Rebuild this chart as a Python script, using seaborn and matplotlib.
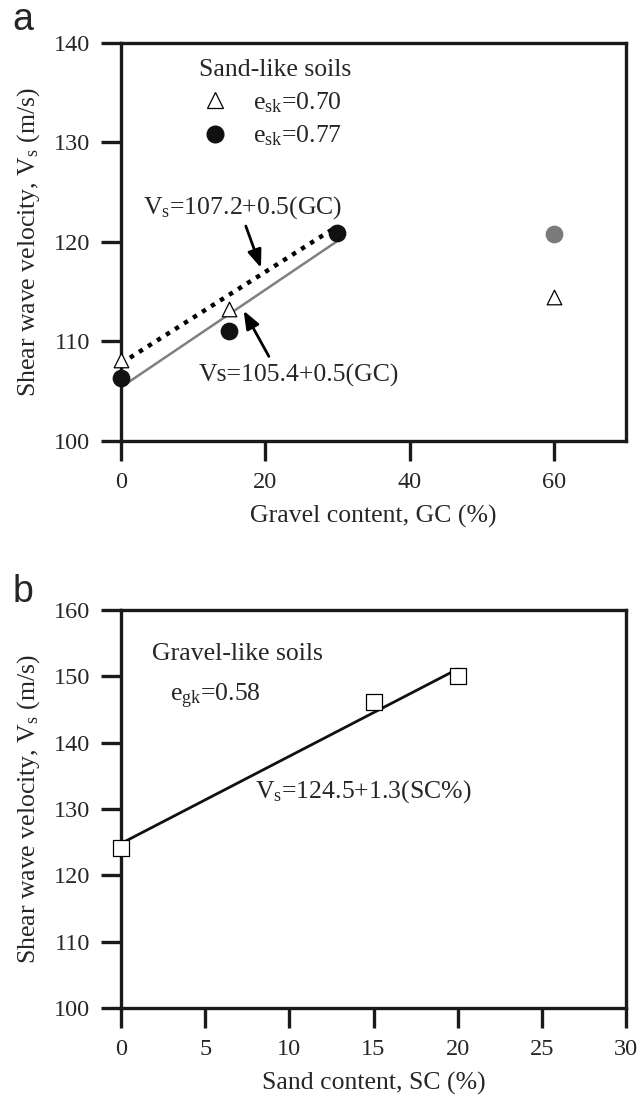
import numpy as np
import pandas as pd
import matplotlib
matplotlib.use("Agg")
import matplotlib.pyplot as plt
from matplotlib.lines import Line2D
import seaborn as sns

# ---------------- data ----------------
# panel a : sand-like soils
gc_tri = [0, 15, 60]
vs_tri = [108.1, 113.3, 114.5]          # e_sk = 0.70
gc_dot = [0, 15, 30]
vs_dot = [106.3, 111.1, 120.9]          # e_sk = 0.77
gc_dot_gray = [60]
vs_dot_gray = [120.8]
fit1_x = [0, 29.8]                      # Vs = 107.2 + 0.5 GC (dotted)
fit1_y = [107.8, 121.5]
fit2_x = [0, 29.8]                      # Vs = 105.4 + 0.5 GC (gray)
fit2_y = [105.4, 120.0]

# panel b : gravel-like soils
sc_sq = [0, 15, 20]
vs_sq = [124.1, 146.1, 150.05]
fitb_x = [0, 20]
fitb_y = [124.8, 151.1]

xticks_a = [0, 20, 40, 60]
yticks_a = [100, 110, 120, 130, 140]
xticks_b = [0, 5, 10, 15, 20, 25, 30]
yticks_b = [100, 110, 120, 130, 140, 150, 160]

# ---------------- style ----------------
sns.set_theme(style="ticks")
plt.rcParams['font.family'] = ['Liberation Serif', 'DejaVu Serif']
plt.rcParams['mathtext.fontset'] = 'custom'
plt.rcParams['mathtext.rm'] = 'Liberation Serif'
plt.rcParams['mathtext.it'] = 'Liberation Serif:italic'
FS = 18.5
TFS = 17.5

fig = plt.figure(figsize=(6.42, 11.01), dpi=100)
W = (626 - 121) / 642
ax1 = fig.add_axes([121 / 642, 1 - 441 / 1101, W, (441 - 43) / 1101])
ax2 = fig.add_axes([121 / 642, 1 - 1008 / 1101, W, (1008 - 610) / 1101])


def style_axes(ax):
    for s in ax.spines.values():
        s.set_linewidth(2.4)
        s.set_color('#1a1a1a')
        s.set_visible(True)
    ax.tick_params(axis='both', direction='out', length=14.5, width=2.4,
                   labelsize=TFS, color='#1a1a1a')
    ax.tick_params(axis='x', pad=7.5)
    ax.tick_params(axis='y', pad=7.5)
    ax.set_facecolor('white')


# ---------------- panel a ----------------
ax = ax1
sns.lineplot(x=fit1_x, y=fit1_y, ax=ax, color='black', lw=3.2,
             linestyle=(0, (1, 1.4)), legend=False)
sns.lineplot(x=fit2_x, y=fit2_y, ax=ax, color='#808080', lw=1.8, legend=False)
sns.scatterplot(x=gc_tri, y=vs_tri, ax=ax, marker='^', s=110,
                facecolor='white', edgecolor='black', linewidth=0.9, zorder=5,
                clip_on=False)
sns.scatterplot(x=gc_dot, y=vs_dot, ax=ax, marker='o', s=140,
                color='#111111', edgecolor='#111111', zorder=5, clip_on=False)
sns.scatterplot(x=gc_dot_gray, y=vs_dot_gray, ax=ax, marker='o', s=140,
                color='#7a7a7a', edgecolor='#7a7a7a', zorder=5, clip_on=False)

ax.set_xlim(0, 70)
ax.set_ylim(100, 140)
ax.set_xticks(xticks_a)
ax.set_yticks(yticks_a)
ax.set_xlabel('Gravel content, GC (%)', fontsize=FS, labelpad=9)
ax.set_ylabel(r'Shear wave velocity, V$_\mathregular{s}$ (m/s)', fontsize=FS, labelpad=9)
style_axes(ax)

handles = [
    Line2D([], [], marker='^', ls='', markersize=11, markerfacecolor='white',
           markeredgecolor='black', markeredgewidth=0.9),
    Line2D([], [], marker='o', ls='', markersize=12, markerfacecolor='#111111',
           markeredgecolor='#111111'),
]
leg = ax.legend(handles, [r'e$_\mathregular{sk}$=0.70', r'e$_\mathregular{sk}$=0.77'],
                title='Sand-like soils', loc='upper left',
                bbox_to_anchor=(0.135, 0.985), frameon=False, fontsize=FS,
                title_fontsize=FS, handletextpad=0.9, labelspacing=0.35,
                borderaxespad=0.0, handlelength=1.2)
leg._legend_box.align = 'left'

ax.text(3.1, 123.5, r'V$_\mathregular{s}$=107.2+0.5(GC)', fontsize=FS,
        va='center', ha='left')
ax.text(10.8, 106.6, r'Vs=105.4+0.5(GC)', fontsize=FS, va='center', ha='left')
arrow_kw = dict(arrowstyle='-|>,head_length=0.9,head_width=0.35', color='black',
                lw=2.0, shrinkA=0, shrinkB=0)
ax.annotate('', xy=(19.4, 117.4), xytext=(17.3, 121.6), arrowprops=arrow_kw)
ax.annotate('', xy=(17.0, 113.1), xytext=(20.5, 108.5), arrowprops=arrow_kw)

# ---------------- panel b ----------------
ax = ax2
sns.lineplot(x=fitb_x, y=fitb_y, ax=ax, color='#111111', lw=2.0, legend=False)
sns.scatterplot(x=sc_sq, y=vs_sq, ax=ax, marker='s', s=120,
                facecolor='white', edgecolor='black', linewidth=0.9, zorder=5,
                clip_on=False)
ax.set_xlim(0, 30)
ax.set_ylim(100, 160)
ax.set_xticks(xticks_b)
ax.set_yticks(yticks_b)
ax.set_xlabel('Sand content, SC (%)', fontsize=FS, labelpad=9)
ax.set_ylabel(r'Shear wave velocity, V$_\mathregular{s}$ (m/s)', fontsize=FS, labelpad=9)
style_axes(ax)

ax.text(1.87, 153.4, 'Gravel-like soils', fontsize=FS, va='center', ha='left')
ax.text(2.9, 147.0, r'e$_\mathregular{gk}$=0.58', fontsize=FS, va='center', ha='left')
ax.text(7.96, 132.6, r'V$_\mathregular{s}$=124.5+1.3(SC%)', fontsize=FS,
        va='center', ha='left')

# panel letters
fig.text(0.02, 1 - 30 / 1101, 'a', fontsize=27, family='Liberation Sans',
         va='baseline', ha='left')
fig.text(0.02, 1 - 602 / 1101, 'b', fontsize=27, family='Liberation Sans',
         va='baseline', ha='left')

fig.savefig('out.png', dpi=100, facecolor='white')
